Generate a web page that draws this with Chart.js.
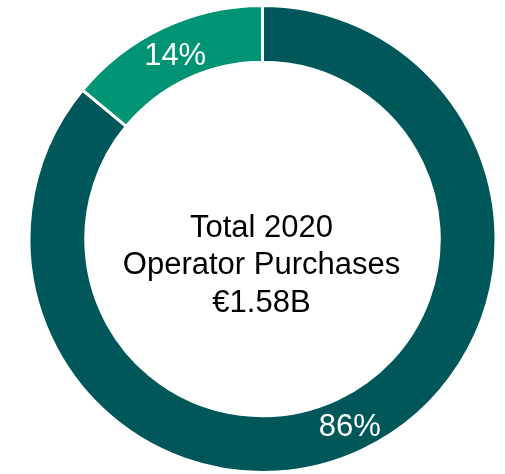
<!DOCTYPE html>
<html>
<head>
<meta charset="utf-8">
<script src="https://cdn.jsdelivr.net/npm/chart.js@4/dist/chart.umd.min.js"></script>
<style>
  html, body { margin: 0; padding: 0; background: #ffffff; }
  #wrap { width: 505px; height: 474px; position: relative; }
</style>
</head>
<body>
<div id="wrap"><canvas id="c" width="505" height="474"></canvas></div>
<script>
// Share of 2020 operator purchases
const categories = ['Other', 'Segment'];
const shares = [86, 14];
const colors = ['#00575A', '#009475'];
const centerLines = ['Total 2020', 'Operator Purchases', '€1.58B'];

const FONT = '"Liberation Sans", Arial, Helvetica, sans-serif';

// Percent labels inside each arc
const sliceLabels = {
  id: 'sliceLabels',
  afterDatasetsDraw(chart) {
    const ctx = chart.ctx;
    const meta = chart.getDatasetMeta(0);
    ctx.save();
    ctx.fillStyle = '#ffffff';
    ctx.font = '31px ' + FONT;
    ctx.textAlign = 'center';
    ctx.textBaseline = 'middle';
    meta.data.forEach((arc, i) => {
      const p = arc.tooltipPosition();
      ctx.fillText(shares[i] + '%', p.x, p.y + 3);
    });
    ctx.restore();
  }
};

// Title text in the hole of the doughnut
const centerText = {
  id: 'centerText',
  afterDraw(chart) {
    const ctx = chart.ctx;
    const arc = chart.getDatasetMeta(0).data[0];
    ctx.save();
    ctx.fillStyle = '#000000';
    ctx.font = '31px ' + FONT;
    ctx.textAlign = 'center';
    ctx.textBaseline = 'middle';
    const gap = 37.5;
    const start = arc.y - 11;
    centerLines.forEach((t, i) => ctx.fillText(t, arc.x - 1, start + i * gap));
    ctx.restore();
  }
};

new Chart(document.getElementById('c'), {
  type: 'doughnut',
  data: {
    labels: categories,
    datasets: [{
      data: shares,
      backgroundColor: colors,
      borderColor: '#ffffff',
      borderWidth: 3
    }]
  },
  options: {
    responsive: false,
    animation: false,
    cutout: '75.7%',
    layout: { padding: { left: 27, right: 7, top: 4, bottom: -1 } },
    plugins: {
      legend: { display: false },
      tooltip: { enabled: false }
    }
  },
  plugins: [sliceLabels, centerText]
});
</script>
</body>
</html>
